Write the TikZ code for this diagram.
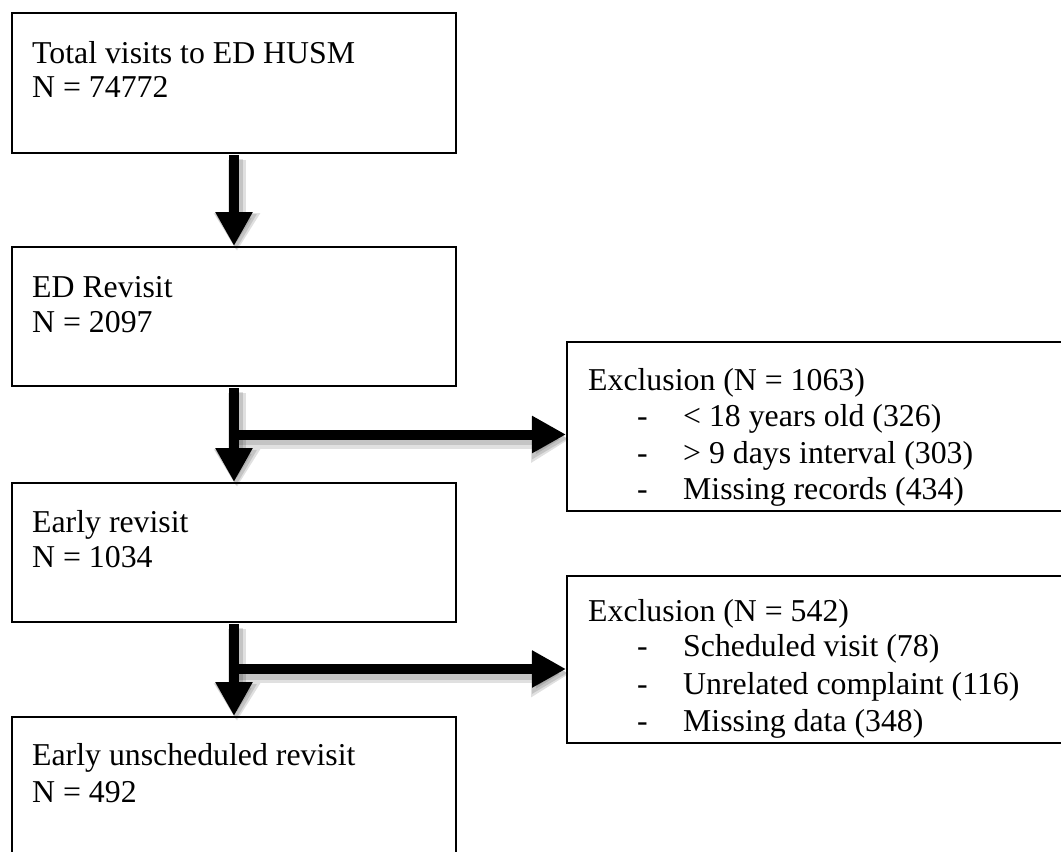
\documentclass[tikz,border=0pt]{standalone}
\usepackage{fontspec}
\setmainfont{Liberation Serif}
\usetikzlibrary{arrows.meta}
\tikzset{
  flowbox/.style={draw=black, line width=2pt, fill=white, rectangle, inner sep=0pt, anchor=north west},
  txt/.style={inner sep=0pt, anchor=base west, font=\fontsize{31.8}{35}\selectfont},
  flowarrow/.style={line width=10pt, -{Triangle[width=35pt,length=34pt]},
    preaction={draw=black, opacity=0.12, line width=18pt, transform canvas={shift={(3pt,-5pt)}}, -{Triangle[width=44pt,length=38pt]}},
    preaction={draw=black, opacity=0.12, line width=13pt, transform canvas={shift={(2pt,-4pt)}}, -{Triangle[width=39pt,length=36pt]}}},
}
\begin{document}
\begin{tikzpicture}[x=1pt,y=-1pt]
\path[use as bounding box, clip] (0,0) rectangle (1061,852);
\fill[white] (0,0) rectangle (1061,852);
% main boxes
\node[flowbox, minimum width=444pt, minimum height=140pt] (b1) at (11,12) {};
\node[flowbox, minimum width=444pt, minimum height=139pt] (b2) at (11,246) {};
\node[flowbox, minimum width=444pt, minimum height=139pt] (b3) at (11,482) {};
\node[flowbox, minimum width=444pt, minimum height=160pt] (b4) at (11,716) {};
% exclusion boxes
\node[flowbox, minimum width=520pt, minimum height=169pt] (e1) at (566,341) {};
\node[flowbox, minimum width=520pt, minimum height=167pt] (e2) at (566,575) {};
% texts
\node[txt] (t1a) at (32,63) {Total visits to ED HUSM};
\node[txt] (t1b) at (32,97) {N = 74772};
\node[txt] (t2a) at (32,297) {ED Revisit};
\node[txt] (t2b) at (32,332) {N = 2097};
\node[txt] (t3a) at (32,532) {Early revisit};
\node[txt] (t3b) at (32,567) {N = 1034};
\node[txt] (t4a) at (32,765) {Early unscheduled revisit};
\node[txt] (t4b) at (32,802) {N = 492};
\node[txt] (e1h) at (588,390) {Exclusion (N = 1063)};
\node[txt] (e1d1) at (637,426) {-};
\node[txt] (e1i1) at (683,426) {< 18 years old (326)};
\node[txt] (e1d2) at (637,463) {-};
\node[txt] (e1i2) at (683,463) {> 9 days interval (303)};
\node[txt] (e1d3) at (637,499) {-};
\node[txt] (e1i3) at (683,499) {Missing records (434)};
\node[txt] (e2h) at (588,621) {Exclusion (N = 542)};
\node[txt] (e2d1) at (637,656) {-};
\node[txt] (e2i1) at (683,656) {Scheduled visit (78)};
\node[txt] (e2d2) at (637,694) {-};
\node[txt] (e2i2) at (683,694) {Unrelated complaint (116)};
\node[txt] (e2d3) at (637,731) {-};
\node[txt] (e2i3) at (683,731) {Missing data (348)};
% connectors
\coordinate (sx) at (234,0);
\coordinate (j1) at (234,434.5);
\coordinate (j2) at (234,669);
\draw[flowarrow] ([yshift=-1pt]b1.south -| sx) -- (b2.north -| sx);
\draw[flowarrow] (j1) -- (j1 -| e1.west);
\draw[flowarrow] ([yshift=-1pt]b2.south -| sx) -- (b3.north -| sx);
\draw[flowarrow] (j2) -- (j2 -| e2.west);
\draw[flowarrow] ([yshift=-1pt]b3.south -| sx) -- (b4.north -| sx);
\end{tikzpicture}
\end{document}
